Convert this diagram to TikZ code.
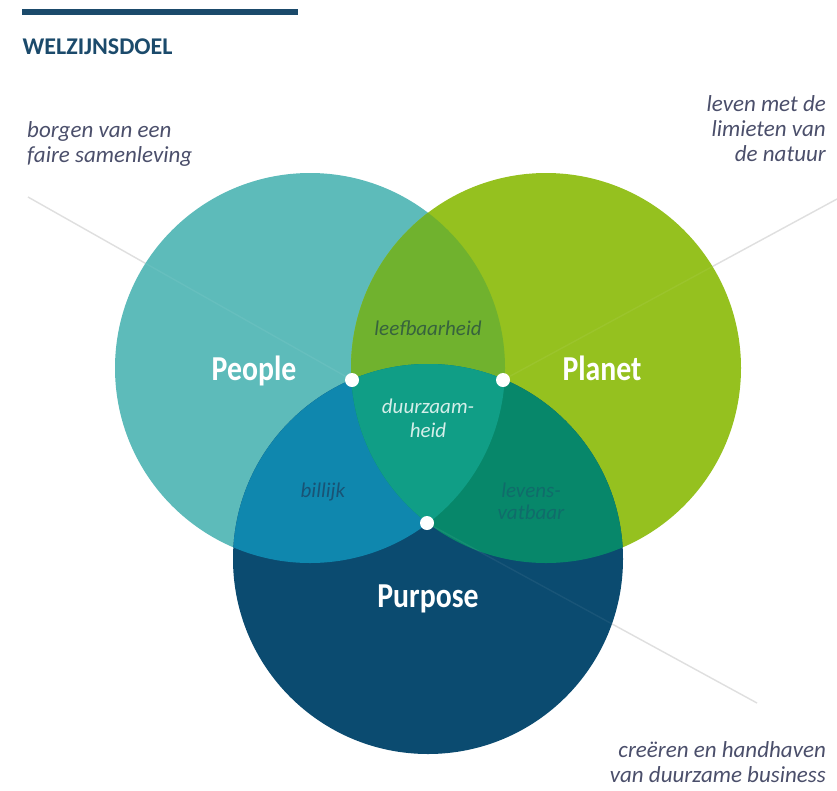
\documentclass[tikz,border=0pt]{standalone}
\usepackage{fontspec}
\setmainfont{Carlito}
\newfontfamily\narrowfont[FakeStretch=0.85]{Carlito}
\usetikzlibrary{positioning}
\usepackage{xcolor}

\definecolor{navy}{HTML}{1B4A6B}
\definecolor{sidegrey}{HTML}{4B4F6B}
\definecolor{guidegrey}{HTML}{DDDDDD}
\definecolor{peoplefill}{HTML}{5DBBBA}
\definecolor{planetfill}{HTML}{95C11F}
\definecolor{purposefill}{HTML}{0B4B70}
\definecolor{leefbaarfill}{HTML}{70B22E}
\definecolor{billijkfill}{HTML}{0F87AE}
\definecolor{levensfill}{HTML}{07876A}
\definecolor{duurzaamfill}{HTML}{109E86}

\tikzset{
    venn/.style={circle, minimum size=390pt, inner sep=0pt},
    joint/.style={circle, fill=white, minimum size=14pt, inner sep=0pt},
    guide/.style={draw=guidegrey, line width=1.4pt},
    guideover/.style={draw=white, opacity=0.06, line width=1.4pt},
    bigname/.style={text=white, font=\narrowfont\bfseries\fontsize{35}{35}\selectfont, inner sep=0pt, anchor=base},
    lensname/.style={font=\itshape\fontsize{21}{24}\selectfont, inner sep=0pt, anchor=base},
    sidetext/.style={text=sidegrey, font=\itshape\fontsize{23}{25}\selectfont, inner sep=0pt}
}

\begin{document}
\begin{tikzpicture}[x=1pt, y=-1pt]
                \useasboundingbox (0,0) rectangle (837,790);
                \fill[navy] (22,9) rectangle (298,15);
                \node[text=navy, font=\bfseries\fontsize{24}{24}\selectfont, inner sep=0pt, anchor=base west] (title) at (22.5,54) {WELZIJNSDOEL};

                % side texts
                \node[sidetext, anchor=base west] (borgen) at (27,137) {borgen van een};
                \node[sidetext, anchor=base west] (faire) at ([yshift=-25pt]borgen.base west) {faire samenleving};
                \node[sidetext, anchor=base east] (leven) at (826,111) {leven met de};
                \node[sidetext, anchor=base east] (limiet) at ([yshift=-25pt]leven.base east) {limieten van};
                \node[sidetext, anchor=base east] (natuur) at ([yshift=-25pt]limiet.base east) {de natuur};
                \node[sidetext, anchor=base east] (creeren) at (826,757) {creëren en handhaven};
                \node[sidetext, anchor=base east] (business) at ([yshift=-25pt]creeren.base east) {van duurzame business};

                \coordinate (pL) at (352,380);
                \coordinate (pR) at (503,380);
                \coordinate (pB) at (427,523);
                \coordinate (endL) at (28,197);
                \coordinate (endR) at (837,199);
                \coordinate (endB) at (757,703);
                \draw[guide] (endL) -- (pL);
                \draw[guide] (endR) -- (pR);
                \draw[guide] (endB) -- (pB);

                \node[venn, fill=peoplefill] (people) at (310,368) {};
                \node[venn, fill=planetfill] (planet) at (546,368) {};
                \node[venn, fill=purposefill] (purpose) at (428,559) {};
                \begin{scope}
                    \clip (people.center) circle[radius=195pt];
                    \fill[leefbaarfill] (planet.center) circle[radius=195pt];
                    \fill[billijkfill] (purpose.center) circle[radius=195pt];
                \end{scope}
                \begin{scope}
                    \clip (planet.center) circle[radius=195pt];
                    \fill[levensfill] (purpose.center) circle[radius=195pt];
                    \clip (people.center) circle[radius=195pt];
                    \fill[duurzaamfill] (purpose.center) circle[radius=195pt];
                \end{scope}

                \draw[guideover] (endL) -- (pL);
                \draw[guideover] (endR) -- (pR);
                \draw[guideover] (endB) -- (pB);

                \node[bigname] (peoplelabel) at (254,380) {People};
                \node[bigname] (planetlabel) at (602,380) {Planet};
                \node[bigname] (purposelabel) at (428,607) {Purpose};

                \node[lensname, text=black!35!leefbaarfill!60!navy] (leef) at (428,335) {leefbaarheid};
                \node[lensname, text=white!82!duurzaamfill] (duur) at (428,413) {duurzaam-};
                \node[lensname, text=white!82!duurzaamfill] (heid) at ([yshift=-24pt]duur.base) {heid};
                \node[lensname, text=navy!85!billijkfill] (billijk) at (323,497) {billijk};
                \node[lensname, text=navy!45!levensfill] (levens) at (531,497) {levens-};
                \node[lensname, text=navy!45!levensfill] (vatbaar) at ([yshift=-22pt]levens.base) {vatbaar};

                \node[joint] (dotL) at (pL) {};
                \node[joint] (dotR) at (pR) {};
                \node[joint] (dotB) at (pB) {};
\end{tikzpicture}
\end{document}
